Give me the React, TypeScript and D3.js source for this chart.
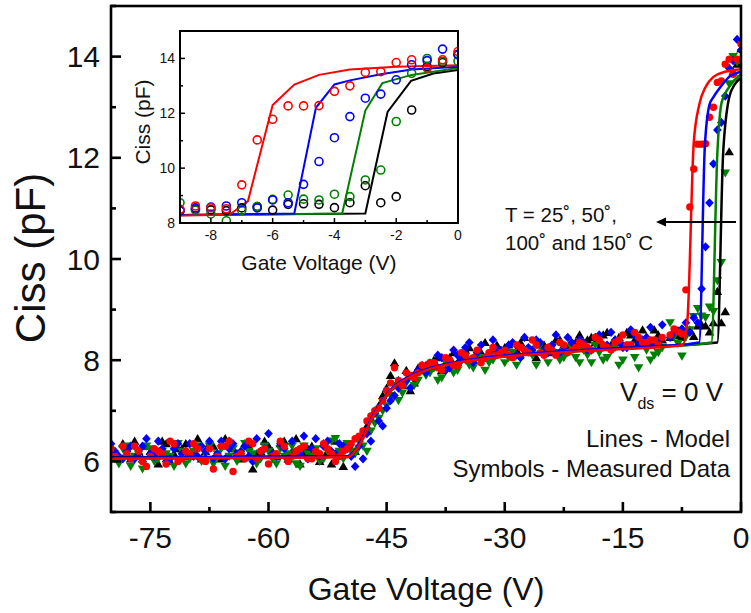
import React from 'react';
import * as d3 from 'd3';

// ---------- data ----------
// main sweep voltages (V), integer steps
const mainV = [-80,-79,-78,-77,-76,-75,-74,-73,-72,-71,-70,-69,-68,-67,-66,-65,-64,-63,-62,-61,-60,-59,-58,-57,-56,-55,-54,-53,-52,-51,-50,-49,-48,-47,-46,-45,-44,-43,-42,-41,-40,-39,-38,-37,-36,-35,-34,-33,-32,-31,-30,-29,-28,-27,-26,-25,-24,-23,-22,-21,-20,-19,-18,-17,-16,-15,-14,-13,-12,-11,-10];
// main sweep voltages (V), half steps
const halfV = [-79.5,-78.5,-77.5,-76.5,-75.5,-74.5,-73.5,-72.5,-71.5,-70.5,-69.5,-68.5,-67.5,-66.5,-65.5,-64.5,-63.5,-62.5,-61.5,-60.5,-59.5,-58.5,-57.5,-56.5,-55.5,-54.5,-53.5,-52.5,-51.5,-50.5,-49.5,-48.5,-47.5,-46.5,-45.5,-44.5,-43.5,-42.5,-41.5,-40.5,-39.5,-38.5,-37.5,-36.5,-35.5,-34.5,-33.5,-32.5,-31.5,-30.5,-29.5,-28.5,-27.5,-26.5,-25.5,-24.5,-23.5,-22.5,-21.5,-20.5,-19.5,-18.5,-17.5,-16.5,-15.5,-14.5,-13.5,-12.5,-11.5,-10.5];

const redMain = [6.25,6.05,6.15,6.30,6.00,6.10,6.20,5.95,6.35,6.05, 6.15,6.25,6.00,5.85,6.30,6.40,6.10,6.05,6.35,6.20, 5.95,6.15,6.30,6.10,6.25,6.05,6.20,6.35,6.15,6.10, 6.25,6.45,6.60,6.90,7.05,7.40,7.85,7.50,7.70,7.75, 7.85,7.95,7.80,8.00,7.90,8.10,8.05,7.95,8.15,8.10, 8.20,8.05,8.25,8.15,8.30,8.10,8.20,8.35,8.15,8.25, 8.30,8.20,8.40,8.25,8.35,8.50,8.30,8.45,8.35,8.40, 8.45];
const blueMain = [6.35,6.10,6.20,6.05,6.30,6.15,6.40,6.00,6.25,6.15, 6.35,6.10,6.20,6.05,6.40,6.25,6.15,6.30,6.00,6.20, 6.55,6.10,6.25,6.40,6.15,6.05,6.45,6.30,6.20,6.35, 6.25,5.90,6.05,6.40,6.80,7.05,7.30,7.55,7.45,7.80, 7.75,7.90,8.05,7.85,8.10,8.25,7.95,8.30,8.10,8.20, 8.15,8.35,8.05,8.25,8.40,8.20,8.30,8.15,8.45,8.25, 8.35,8.20,8.50,8.30,8.40,8.25,8.60,8.35,8.45,8.30, 8.70];
const greenMain = [6.20,5.95,6.30,6.10,5.85,6.25,6.05,6.15,5.90,6.20, 6.05,6.30,6.15,5.95,6.25,6.10,6.00,6.35,6.15,6.05, 6.20,5.95,6.10,6.30,5.90,6.15,6.25,6.05,6.40,6.20, 6.35,6.15,6.30,6.60,6.85,7.10,7.50,7.35,7.70,7.60, 7.70,7.85,7.65,7.90,7.80,8.00,7.85,8.05,7.95,8.10, 7.95,8.15,8.05,8.20,7.90,8.10,8.25,8.00,8.15,8.05, 8.20,7.95,8.15,8.05,8.25,8.00,8.30,7.85,8.20,8.10, 8.25];
const blackMain = [6.30,6.10,6.25,6.40,6.05,6.20,5.95,6.35,6.15,6.25, 6.10,6.45,6.20,6.30,6.05,6.40,6.15,6.35,5.85,6.20, 6.30,6.10,6.40,6.20,5.95,6.25,6.15,6.35,5.95,6.10, 6.30,6.20,6.55,6.85,7.10,7.45,7.95,7.50,7.40,7.85, 7.90,8.00,7.80,8.05,7.95,8.20,8.00,8.15,8.10,8.30, 8.25,8.10,8.35,8.20,8.05,8.30,8.15,8.40,8.25,8.35, 8.30,8.45,8.25,8.55,8.40,8.30,8.50,8.35,8.45,8.60, 8.40];

const redHalf = [6.10,6.30,6.05,6.20,5.90,6.25,6.15,6.40,6.00,6.20, 6.35,6.05,6.25,6.10,6.30,5.80,6.15,6.40,6.05,6.25, 6.10,6.40,6.00,6.20,6.30,6.05,6.15,6.25,6.00,6.20, 6.35,6.50,6.80,7.00,7.20,7.55,7.60,7.75,7.65,7.90, 7.95,7.85,8.05,7.90,8.15,8.00,8.20,8.05,8.25,8.15, 8.10,8.30,8.20,8.40,8.15,8.25,8.10,8.30,8.20,8.35, 8.25,8.45,8.30,8.20,8.40,8.30,8.55,8.35,8.40,8.30];
const blueHalf = [6.20,6.05,6.30,6.15,6.45,6.10,6.25,6.05,6.35,6.20, 6.10,6.30,6.40,6.15,6.05,6.35,6.20,6.10,6.45,6.25, 6.15,6.35,6.05,6.20,6.50,6.25,6.10,6.40,6.15,6.30, 6.10,6.30,6.55,6.95,6.70,7.20,7.45,7.60,7.70,7.85, 7.95,8.10,7.80,8.20,8.00,8.35,8.15,8.05,8.40,8.20, 8.30,8.10,8.45,8.20,8.35,8.15,8.50,8.25,8.35,8.40, 8.20,8.45,8.30,8.55,8.35,8.25,8.50,8.40,8.65,8.35];
const greenHalf = [6.05,6.25,5.90,6.15,6.30,6.00,6.20,6.10,6.35,5.95, 6.20,6.00,6.30,6.15,5.90,6.25,6.10,6.20,5.95,6.30, 6.05,6.25,6.15,5.95,6.30,6.10,6.00,6.20,6.45,6.05, 6.20,6.40,6.20,6.75,7.00,7.30,7.20,7.55,7.50,7.80, 7.75,7.60,7.95,7.75,8.05,7.90,8.10,7.80,8.00,8.15, 8.05,7.90,8.20,8.10,8.30,7.95,8.15,8.05,8.25,7.95, 8.10,8.30,8.00,8.20,7.90,8.25,8.05,8.35,8.00,8.15];
const blackHalf = [6.15,6.35,6.05,6.20,6.30,6.10,6.40,6.00,6.25,6.35, 6.20,6.05,6.35,6.15,6.45,6.25,6.05,6.30,6.15,6.40, 6.20,6.35,6.05,6.45,6.15,6.30,6.00,6.20,6.40,5.90, 6.25,6.45,6.70,7.00,7.30,7.70,7.60,7.80,7.55,7.90, 7.85,8.05,7.95,8.15,8.05,8.25,8.10,8.35,8.20,8.15, 8.30,8.20,8.45,8.15,8.30,8.25,8.40,8.20,8.35,8.50, 8.40,8.35,8.50,8.30,8.45,8.55,8.40,8.60,8.35,8.50];

// fine sweep near threshold (V), shown in inset and main plot
const fineV = [-9,-8.5,-8,-7.5,-7,-6.5,-6,-5.5,-5,-4.5,-4,-3.5,-3,-2.5,-2,-1.5,-1,-0.5,0];
const redFine = [8.50,8.62,8.56,8.52,9.39,11.03,11.78,12.27,12.27,12.28,12.80,13.00,13.49,13.52,13.85,13.95,13.65,13.95,14.25];
const blueFine = [8.45,8.55,8.58,8.62,8.74,8.55,8.84,8.74,9.41,10.24,11.11,11.88,12.55,12.70,13.22,13.77,13.92,14.34,14.13];
const greenFine = [8.74,8.47,8.33,8.08,8.46,8.60,8.86,9.02,8.87,8.84,9.05,8.96,9.57,9.93,11.70,13.46,14.00,13.89,13.90];
const blackFine = [8.45,8.50,8.48,8.45,8.55,8.60,8.47,8.68,8.70,8.68,8.56,8.74,9.36,8.74,8.96,12.12,13.70,13.85,14.15];

// model curves
const lowV = [-80,-50,-49,-48,-47,-46,-45,-44,-42,-40,-37,-34,-30,-25,-20,-15,-10];
const redModelV = [...lowV, -7.4,-6.8,-6.0,-5.3,-4.5,-3.5,-2,0];
const redModelC = [6.05,6.08,6.2,6.45,6.8,7.08,7.3,7.47,7.67,7.8,7.92,8.0,8.07,8.13,8.18,8.22,8.26, 8.3,8.8,12.3,13.05,13.4,13.6,13.7,13.75];
const blueModelV = [...lowV, -5.3,-4.6,-4.0,-3.5,-2.5,-1.5,0];
const blueModelC = [6.07,6.1,6.22,6.48,6.83,7.1,7.32,7.49,7.69,7.82,7.94,8.02,8.09,8.15,8.2,8.24,8.28, 8.35,12.2,13.05,13.2,13.42,13.6,13.7];
const greenModelV = [...lowV, -3.75,-3.0,-2.45,-1.5,0];
const greenModelC = [6.06,6.09,6.21,6.47,6.82,7.09,7.31,7.48,7.68,7.81,7.93,8.01,8.08,8.14,8.19,8.23,8.27, 8.35,12.1,13.1,13.4,13.65];
const blackModelV = [...lowV, -3.0,-2.28,-1.52,-0.8,0];
const blackModelC = [6.08,6.1,6.2,6.46,6.81,7.1,7.3,7.47,7.67,7.8,7.93,8.01,8.08,8.14,8.19,8.24,8.28, 8.35,12.05,13.18,13.45,13.58];

const mainXTicks = [-75,-60,-45,-30,-15,0];
const mainXMinor = [-67.5,-52.5,-37.5,-22.5,-7.5];
const mainYTicks = [6,8,10,12,14];
const mainYMinor = [5,7,9,11,13,15];
const insetXTicks = [-8,-6,-4,-2,0];
const insetXMinor = [-9,-7,-5,-3,-1];
const insetYTicks = [8,10,12,14];
const insetYMinor = [9,11,13,15];

const RED = '#ff0000', BLUE = '#0000ff', GREEN = '#008000', BLACK = '#000000';
const FONT = '"Liberation Sans", Arial, Helvetica, sans-serif';

type Series = { color: string; shape: string; main: number[]; half: number[]; fine: number[]; mv: number[]; mc: number[] };
const seriesList: Series[] = [
  { color: BLACK, shape: 'up', main: blackMain, half: blackHalf, fine: blackFine, mv: blackModelV, mc: blackModelC },
  { color: GREEN, shape: 'down', main: greenMain, half: greenHalf, fine: greenFine, mv: greenModelV, mc: greenModelC },
  { color: BLUE, shape: 'diamond', main: blueMain, half: blueHalf, fine: blueFine, mv: blueModelV, mc: blueModelC },
  { color: RED, shape: 'circle', main: redMain, half: redHalf, fine: redFine, mv: redModelV, mc: redModelC },
];

function Marker({ shape, cx, cy, color }: { shape: string; cx: number; cy: number; color: string }) {
  if (shape === 'circle') return <circle cx={cx} cy={cy} r={3.7} fill={color} />;
  let d = '';
  if (shape === 'diamond') d = `M${cx},${cy - 4.6}L${cx + 4.3},${cy}L${cx},${cy + 4.6}L${cx - 4.3},${cy}Z`;
  if (shape === 'up') d = `M${cx},${cy - 4.6}L${cx + 4.8},${cy + 3.6}L${cx - 4.8},${cy + 3.6}Z`;
  if (shape === 'down') d = `M${cx},${cy + 4.6}L${cx + 4.8},${cy - 3.6}L${cx - 4.8},${cy - 3.6}Z`;
  return <path d={d} fill={color} />;
}

export default function App() {
  const x = d3.scaleLinear().domain([-80, 0]).range([111, 741]);
  const y = d3.scaleLinear().domain([5, 15]).range([512, 6]);
  const ix = d3.scaleLinear().domain([-9, 0]).range([180, 458]);
  const iy = d3.scaleLinear().domain([8, 15]).range([223, 31]);

  const mainLine = d3.line<[number, number]>().x(d => x(d[0])).y(d => y(d[1])).curve(d3.curveMonotoneX);
  const insetLine = d3.line<[number, number]>().x(d => ix(d[0])).y(d => iy(d[1]));

  return (
    <svg width={751} height={613} style={{ position: 'absolute', left: 0, top: 0, background: '#fff' }} fontFamily={FONT}>
      <defs>
        <clipPath id="mainClip"><rect x={111} y={6} width={630} height={506} /></clipPath>
        <clipPath id="insetClip"><rect x={180} y={31} width={278} height={192} /></clipPath>
      </defs>
      <rect x={0} y={0} width={751} height={613} fill="#fff" />

      {/* main markers */}
      <g clipPath="url(#mainClip)">
        {seriesList.map((s, si) => (
          <g key={'m' + si}>
            {mainV.map((v, i) => <Marker key={'a' + i} shape={s.shape} cx={x(v)} cy={y(s.main[i])} color={s.color} />)}
            {halfV.map((v, i) => <Marker key={'h' + i} shape={s.shape} cx={x(v)} cy={y(s.half[i])} color={s.color} />)}
            {fineV.map((v, i) => <Marker key={'b' + i} shape={s.shape} cx={x(v)} cy={y(s.fine[i])} color={s.color} />)}
          </g>
        ))}
        {seriesList.map((s, si) => (
          <path key={'l' + si} d={mainLine(s.mv.map((v, i) => [v, s.mc[i]] as [number, number])) || ''}
            fill="none" stroke={s.color} strokeWidth={2.5} />
        ))}
      </g>

      {/* main frame */}
      <rect x={111} y={6} width={630} height={506} fill="none" stroke="#000" strokeWidth={2.6} />
      {mainXTicks.map(t => <line key={'xt' + t} x1={x(t)} x2={x(t)} y1={512} y2={502} stroke="#000" strokeWidth={2.6} />)}
      {mainXMinor.map(t => <line key={'xm' + t} x1={x(t)} x2={x(t)} y1={512} y2={507} stroke="#000" strokeWidth={2.6} />)}
      {mainYTicks.map(t => <line key={'yt' + t} x1={111} x2={121} y1={y(t)} y2={y(t)} stroke="#000" strokeWidth={2.6} />)}
      {mainYMinor.map(t => <line key={'ym' + t} x1={111} x2={116} y1={y(t)} y2={y(t)} stroke="#000" strokeWidth={2.6} />)}
      {mainXTicks.map(t => <text key={'xl' + t} x={x(t)} y={548} fontSize={30} textAnchor="middle" fill="#111">{t}</text>)}
      {mainYTicks.map(t => <text key={'yl' + t} x={100} y={y(t) + 10.5} fontSize={30} textAnchor="end" fill="#111">{t}</text>)}
      <text x={426} y={600} fontSize={32} textAnchor="middle" fill="#111">Gate Voltage (V)</text>
      <text transform="translate(45,258) rotate(-90)" fontSize={42} textAnchor="middle" fill="#111">Ciss (pF)</text>

      {/* annotations */}
      <text x={505} y={222} fontSize={20.5} fill="#111">T = 25˚, 50˚,</text>
      <text x={505} y={250} fontSize={20.5} fill="#111">100˚ and 150˚ C</text>
      <line x1={736} x2={664} y1={222} y2={222} stroke="#000" strokeWidth={2} />
      <polygon points="656,222 666,217.5 666,226.5" fill="#000" />
      <text x={723} y={401} fontSize={26} textAnchor="end" fill="#111">V<tspan fontSize={16} dy={8}>ds</tspan><tspan fontSize={26} dy={-8}> = 0 V</tspan></text>
      <text x={730} y={447} fontSize={24} textAnchor="end" fill="#111">Lines - Model</text>
      <text x={730} y={477} fontSize={24} textAnchor="end" fill="#111">Symbols - Measured Data</text>

      {/* inset */}
      <rect x={180} y={31} width={278} height={192} fill="#fff" />
      <g clipPath="url(#insetClip)">
        {seriesList.map((s, si) => (
          <path key={'il' + si} d={insetLine(s.mv.map((v, i) => [v, s.mc[i]] as [number, number])) || ''}
            fill="none" stroke={s.color} strokeWidth={2} />
        ))}
        {seriesList.map((s, si) => (
          <g key={'ip' + si}>
            {fineV.map((v, i) => <circle key={i} cx={ix(v)} cy={iy(s.fine[i])} r={4} fill="none" stroke={s.color} strokeWidth={1.6} />)}
          </g>
        ))}
      </g>
      <rect x={180} y={31} width={278} height={192} fill="none" stroke="#000" strokeWidth={2} />
      {insetXTicks.map(t => <line key={'ixt' + t} x1={ix(t)} x2={ix(t)} y1={223} y2={218} stroke="#000" strokeWidth={1.5} />)}
      {insetXMinor.map(t => <line key={'ixm' + t} x1={ix(t)} x2={ix(t)} y1={223} y2={220} stroke="#000" strokeWidth={1.5} />)}
      {insetYTicks.map(t => <line key={'iyt' + t} x1={180} x2={185} y1={iy(t)} y2={iy(t)} stroke="#000" strokeWidth={1.5} />)}
      {insetYMinor.map(t => <line key={'iym' + t} x1={180} x2={183} y1={iy(t)} y2={iy(t)} stroke="#000" strokeWidth={1.5} />)}
      {insetXTicks.map(t => <text key={'ixl' + t} x={ix(t)} y={240} fontSize={14} textAnchor="middle" fill="#111">{t}</text>)}
      {insetYTicks.map(t => <text key={'iyl' + t} x={175} y={iy(t) + 5} fontSize={14} textAnchor="end" fill="#111">{t}</text>)}
      <text x={319} y={270} fontSize={21} textAnchor="middle" fill="#111">Gate Voltage (V)</text>
      <text transform="translate(150,122) rotate(-90)" fontSize={21} textAnchor="middle" fill="#111">Ciss (pF)</text>
    </svg>
  );
}
